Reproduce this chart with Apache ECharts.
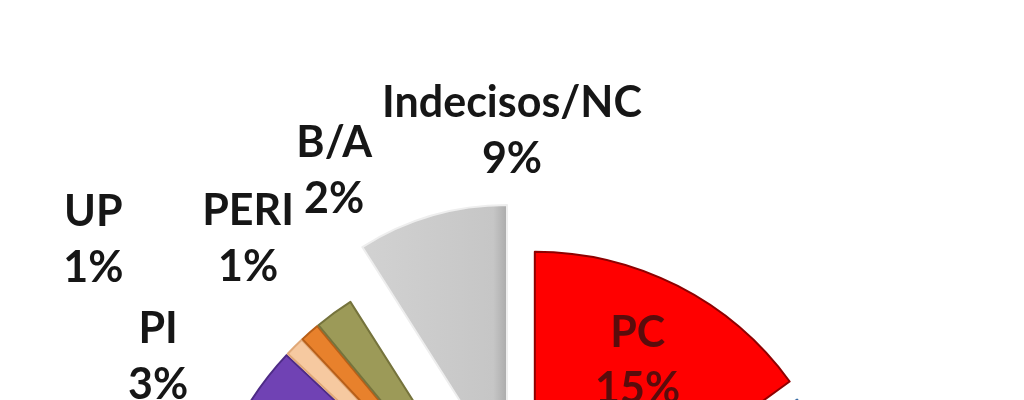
<!DOCTYPE html>
<html>
<head>
<meta charset="utf-8">
<script src="https://cdn.jsdelivr.net/npm/echarts@6/dist/echarts.min.js"></script>
<style>
html,body{margin:0;padding:0;background:#fff;}
#chart{width:1024px;height:400px;}
</style>
</head>
<body>
<div id="chart"></div>
<script>
// Data (clockwise from 12 o'clock)
const categories = ['PC', 'PP', 'PRC', 'PSOE', 'PI', 'UP', 'PERI', 'B/A', 'Indecisos/NC'];
const values     = [15,   30,   18,    21,     3,    1,    1,      2,     9];
const colors     = ['#ff0000', '#6a9bd6', '#9bbb59', '#c0504d', '#7042b4', '#f6c9a0', '#e8812c', '#9c9a58', '#c9c9c9'];
const borders    = ['#8e0000', '#3a6ea5', '#6f8b3a', '#8c3836', '#4e2b86', '#e0a878', '#b85f18', '#75733c', '#eeeeee'];

// label styling / placement (kept apart from the data)
const labelBox   = { 'PC': 120, 'PI': 100, 'UP': 100, 'PERI': 90, 'B/A': 76, 'Indecisos/NC': 264 };
const labelEdge  = { 'PI': 120, 'UP': 54, 'PERI': 213, 'B/A': 305, 'Indecisos/NC': 380 };
const labelLen   = { 'PI': 34, 'UP': 151, 'PERI': 124, 'B/A': 176, 'Indecisos/NC': 88 };
const DETACHED = 'Indecisos/NC';

const textStyle = (w, color) => ({
  width: w, align: 'center', fontFamily: 'Lato', fontWeight: 'bold',
  fontSize: 43, lineHeight: 56, color: color, overflow: 'none'
});

function makeItem(name, i, visible) {
  const item = { name: name, value: values[i], selected: true };
  if (!visible) {
    item.itemStyle = { color: 'rgba(0,0,0,0)', borderWidth: 0 };
    item.label = { show: false };
    item.labelLine = { show: false };
    return item;
  }
  item.itemStyle = { color: colors[i], borderColor: borders[i], borderWidth: 2 };
  if (name === DETACHED) {
    item.itemStyle.color = new echarts.graphic.LinearGradient(0, 0, 1, 0, [
      { offset: 0, color: '#d2d2d2' }, { offset: 0.9, color: '#c6c6c6' }, { offset: 1, color: '#a9a9a9' }
    ]);
  }
  if (name === 'PC') {
    item.label = { show: true, position: 'inside', padding: [0, 0, 126, 60],
      rich: { t: textStyle(labelBox[name], '#5a0c0c') } };
  } else if (labelEdge[name] != null) {
    item.label = { show: true, position: 'outside', alignTo: 'edge', edgeDistance: labelEdge[name],
      rich: { t: textStyle(labelBox[name], '#161616') } };
    item.labelLine = { show: false, length: labelLen[name], length2: 0 };
  } else {
    item.label = { show: false };
  }
  return item;
}

const fmt = p => '{t|' + p.name + '}\n{t|' + Math.round(p.percent) + '%}';

const chart = echarts.init(document.getElementById('chart'));
chart.setOption({
  animation: false,
  series: [{
    type: 'pie',
    center: [528, 580],
    radius: 315,
    startAngle: 90,
    clockwise: true,
    selectedMode: 'multiple',
    selectedOffset: 15,
    avoidLabelOverlap: false,
    labelLayout: { hideOverlap: false },
    emphasis: { disabled: true },
    label: { formatter: fmt },
    data: categories.map((n, i) => makeItem(n, i, n !== DETACHED))
  }, {
    type: 'pie',
    center: [507, 475],
    radius: 270,
    startAngle: 90,
    clockwise: true,
    avoidLabelOverlap: false,
    labelLayout: { hideOverlap: false },
    emphasis: { disabled: true },
    label: { formatter: fmt },
    data: categories.map((n, i) => makeItem(n, i, n === DETACHED))
  }]
});
</script>
</body>
</html>
